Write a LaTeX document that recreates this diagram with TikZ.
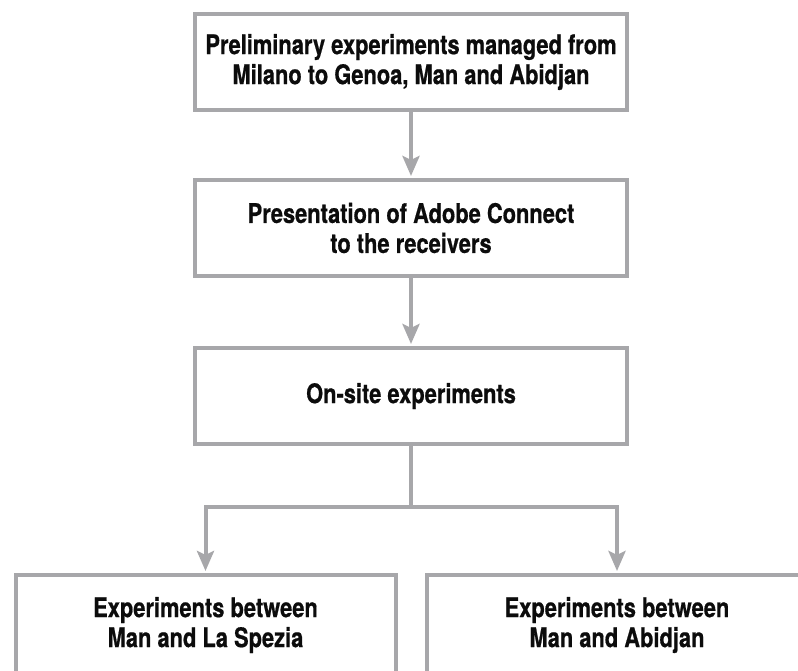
\documentclass[tikz,border=0pt]{standalone}
\usepackage{fontspec}
\setmainfont{TeX Gyre Heros}[FakeStretch=0.81, BoldFeatures={FakeBold=0.6}]
\usetikzlibrary{arrows.meta}
\definecolor{linegray}{RGB}{167,167,170}
\definecolor{textblack}{RGB}{12,12,12}
\tikzset{
  x=1pt, y=-1pt,
  stepbox/.style={draw=linegray, line width=4pt, fill=white, minimum width=432pt, minimum height=96pt,
    align=center, text=textblack, font=\fontsize{27pt}{30pt}\selectfont\bfseries, inner sep=0pt},
  lowbox/.style={stepbox, minimum width=380pt, minimum height=100pt},
  conn/.style={draw=linegray, line width=4pt},
  arr/.style={conn, -{Stealth[length=20pt, width=17pt, inset=4pt]}, shorten >=2pt},
}
\begin{document}
\begin{tikzpicture}
\useasboundingbox (0,0) rectangle (798,671);
\clip (0,0) rectangle (798,671);
\node[stepbox] (b1) at (411,62) {Preliminary experiments managed from\\Milano to Genoa, Man and Abidjan};
\node[stepbox] (b2) at (411,228) {Presentation of Adobe Connect\\to the receivers};
\node[stepbox] (b3) at (411,396) {On-site experiments};
\node[lowbox] (l) at (205.5,625) {Experiments between\\Man and La Spezia};
\node[lowbox] (r) at (617,625) {Experiments between\\Man and Abidjan};
\coordinate (j) at (411,507);
\draw[arr] (b1) -- (b2);
\draw[arr] (b2) -- (b3);
\draw[conn] (b3) -- (j);
\draw[arr] (j) -| (l);
\draw[arr] (j) -| (r);
\end{tikzpicture}
\end{document}
